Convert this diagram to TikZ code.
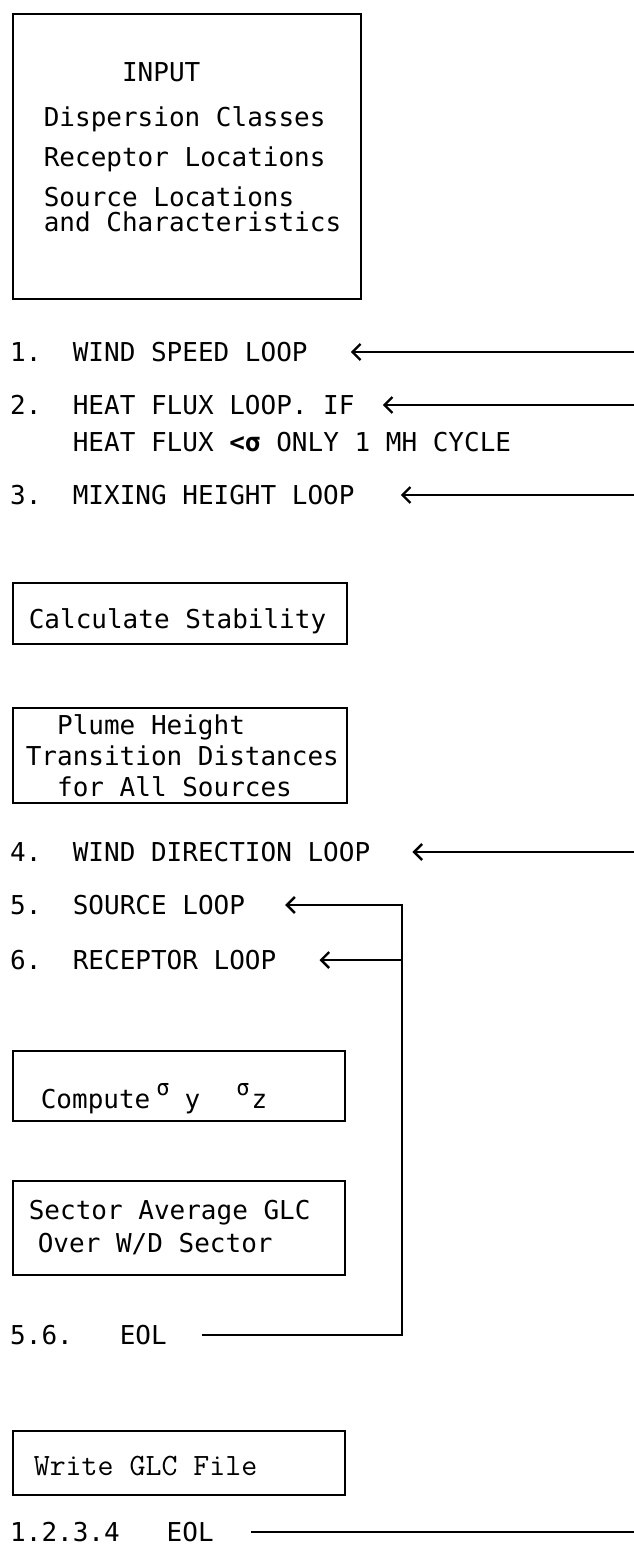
\documentclass[tikz,border=0pt]{standalone}
\usepackage{fontspec}
\setmonofont{DejaVu Sans Mono}
\newfontfamily\courierfont{Latin Modern Mono}
\usetikzlibrary{arrows.meta, positioning}
\newcommand{\tsp}{\hphantom{x}}

\begin{document}
\begin{tikzpicture}[
    x=1pt, y=-1pt,
    font=\ttfamily\fontsize{26}{31}\selectfont,
    >={Straight Barb[length=8pt, width=16pt, line width=2.4pt]},
    box/.style={
        rectangle, draw=black, line width=1.6pt, anchor=north west,
        align=left, inner ysep=0pt
    },
    lbl/.style={anchor=west, inner sep=0pt, text height=19pt, text depth=0pt},
    arr/.style={->, line width=2pt},
    ln/.style={line width=2pt},
]
\useasboundingbox (0,0) rectangle (634,1548);

% --- channels: page edge on the right, inner loop line ----------------
\coordinate (edge)  at (634,0);
\coordinate (loopx) at (402,0);

% --- boxes (top left corner, size) ------------------------------------
\node[box, minimum height=285pt, text width=286pt, inner xsep=31pt] (input) at (12,13)
    {\hphantom{xxxxx}INPUT\\[14pt]
     Dispersion\tsp Classes\\[9pt]
     Receptor\tsp Locations\\[9pt]
     Source\tsp Locations\\[-6pt]
     and\tsp Characteristics\\[-12pt]\mbox{}};
\node[box, minimum height=61pt, text width=302pt, inner xsep=16pt,
      text height=30pt, text depth=0pt] (stab) at (12,582)
    {Calculate\tsp Stability};
\node[box, minimum height=95pt, text width=308pt, inner xsep=13pt] (plume) at (12,707)
    {\hphantom{xx}Plume\tsp Height\\
     Transition\tsp Distances\\
     \hphantom{xx}for\tsp All\tsp Sources};
\node[box, minimum height=70pt, text width=276pt, inner xsep=28pt,
      text height=45pt, text depth=0pt] (sigma) at (12,1050)
    {Compute\hspace{6pt}\raisebox{13pt}{\fontsize{22}{22}\selectfont σ}\hspace{15pt}y%
     \hspace{36pt}\raisebox{13pt}{\fontsize{22}{22}\selectfont σ}\hspace{2pt}z};
\node[box, minimum height=94pt, text width=300pt, inner xsep=16pt] (sector) at (12,1180)
    {Sector\tsp Average\tsp GLC\\[2pt]
     \hspace*{9pt}Over\tsp W/D\tsp Sector};
\node[box, minimum height=64pt, text width=290pt, inner xsep=21pt,
      text height=26pt, text depth=0pt] (write) at (12,1430)
    {\courierfont\fontsize{31}{33}\selectfont Write\tsp GLC\tsp File};

% --- loop labels ------------------------------------------------------
\node[lbl] (ws)   at (10,352)  {1.~~WIND SPEED LOOP};
\node[lbl] (hf)   at (10,405)  {2.~~HEAT FLUX LOOP. IF};
\node[lbl] (hfb)  at (10,442)  {~~~~HEAT FLUX \textbf{<σ} ONLY 1 MH CYCLE};
\node[lbl] (mh)   at (10,495)  {3.~~MIXING HEIGHT LOOP};
\node[lbl] (wd)   at (10,852)  {4.~~WIND DIRECTION LOOP};
\node[lbl] (src)  at (10,905)  {5.~~SOURCE LOOP};
\node[lbl] (rec)  at (10,960)  {6.~~RECEPTOR LOOP};
\node[lbl] (eola) at (10,1335) {5.6.~~~EOL};
\node[lbl] (eolb) at (10,1532) {1.2.3.4~~~EOL};

% --- returns from the page edge ---------------------------------------
\draw[arr] (ws -| edge) -- ([xshift=43pt]ws.east);
\draw[arr] (hf -| edge) -- ([xshift=28pt]hf.east);
\draw[arr] (mh -| edge) -- ([xshift=46pt]mh.east);
\draw[arr] (wd -| edge) -- ([xshift=42pt]wd.east);

% --- inner loop (5, 6) ------------------------------------------------
\draw[arr] ([xshift=35pt]eola.east) -- (eola -| loopx)
    -- (src -| loopx) -- ([xshift=40pt]src.east);
\draw[arr] (rec -| loopx) -- ([xshift=43pt]rec.east);

% --- outer end of loops 1-4 -------------------------------------------
\draw[ln] ([xshift=37pt]eolb.east) -- (eolb -| edge);

\end{tikzpicture}
\end{document}
